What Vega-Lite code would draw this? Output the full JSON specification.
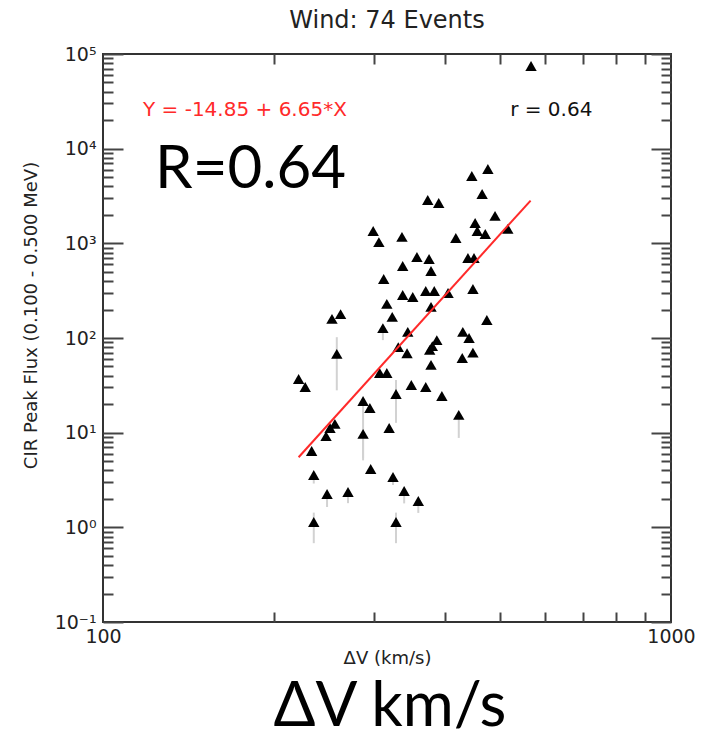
{
  "$schema": "https://vega.github.io/schema/vega-lite/v6.json",
  "width": 568,
  "height": 568,
  "autosize": {"type": "none"},
  "padding": {"left": 103, "top": 54, "right": 46, "bottom": 118},
  "background": "white",
  "title": {"text": "Wind: 74 Events", "font": "DejaVu Sans", "fontSize": 24, "fontWeight": "normal", "color": "#222", "anchor": "middle", "frame": "group", "offset": 12},
  "config": {
    "view": {"stroke": "#333", "strokeWidth": 2},
    "axis": {"domain": false, "grid": false, "labelFont": "DejaVu Sans", "titleFont": "DejaVu Sans", "labelColor": "#222", "titleColor": "#222", "tickColor": "#444", "tickWidth": 2, "titleFontWeight": "normal", "labelOverlap": false}
  },
  "datasets": {
    "events": [
      {"dv": 567, "flux": 74700},
      {"dv": 476, "flux": 6100},
      {"dv": 446, "flux": 5150},
      {"dv": 465, "flux": 3320},
      {"dv": 373, "flux": 2870},
      {"dv": 390, "flux": 2670},
      {"dv": 490, "flux": 1950},
      {"dv": 299, "flux": 1350},
      {"dv": 306, "flux": 1030},
      {"dv": 336, "flux": 1170},
      {"dv": 418, "flux": 1140},
      {"dv": 452, "flux": 1640},
      {"dv": 456, "flux": 1350},
      {"dv": 471, "flux": 1255},
      {"dv": 516, "flux": 1420},
      {"dv": 357, "flux": 717},
      {"dv": 375, "flux": 683},
      {"dv": 439, "flux": 700},
      {"dv": 450, "flux": 700},
      {"dv": 337, "flux": 576},
      {"dv": 378, "flux": 510},
      {"dv": 312, "flux": 420},
      {"dv": 337, "flux": 285},
      {"dv": 351, "flux": 271},
      {"dv": 370, "flux": 314},
      {"dv": 383, "flux": 314},
      {"dv": 405, "flux": 299},
      {"dv": 448, "flux": 329},
      {"dv": 378, "flux": 213},
      {"dv": 316, "flux": 229},
      {"dv": 323, "flux": 167},
      {"dv": 311, "flux": 127, "lo": 95, "hi": 127},
      {"dv": 253, "flux": 159},
      {"dv": 262, "flux": 179},
      {"dv": 474, "flux": 155},
      {"dv": 344, "flux": 116},
      {"dv": 430, "flux": 116},
      {"dv": 441, "flux": 100},
      {"dv": 387, "flux": 95},
      {"dv": 380, "flux": 82},
      {"dv": 376, "flux": 75},
      {"dv": 258, "flux": 68, "lo": 28, "hi": 102},
      {"dv": 331, "flux": 80},
      {"dv": 343, "flux": 69},
      {"dv": 448, "flux": 70},
      {"dv": 429, "flux": 61.5},
      {"dv": 378, "flux": 52},
      {"dv": 307, "flux": 42.7},
      {"dv": 316, "flux": 42.7},
      {"dv": 221, "flux": 36.9},
      {"dv": 227, "flux": 30.4},
      {"dv": 349, "flux": 31.9},
      {"dv": 370, "flux": 30.4},
      {"dv": 328, "flux": 25.6, "lo": 12.7, "hi": 36},
      {"dv": 395, "flux": 24.4},
      {"dv": 287, "flux": 21.6, "lo": 5.1, "hi": 21.6},
      {"dv": 295, "flux": 18.2},
      {"dv": 423, "flux": 15.4, "lo": 8.8, "hi": 15.4},
      {"dv": 256, "flux": 12.4},
      {"dv": 251, "flux": 11.2},
      {"dv": 247, "flux": 9.2},
      {"dv": 319, "flux": 11.2},
      {"dv": 287, "flux": 9.7, "lo": 5.4, "hi": 9.7},
      {"dv": 233, "flux": 6.4},
      {"dv": 296, "flux": 4.13},
      {"dv": 235, "flux": 3.57, "lo": 2.9, "hi": 3.57},
      {"dv": 324, "flux": 3.4, "lo": 2.8, "hi": 3.4},
      {"dv": 248, "flux": 2.25, "lo": 1.64, "hi": 2.25},
      {"dv": 270, "flux": 2.36, "lo": 1.8, "hi": 2.36},
      {"dv": 339, "flux": 2.42, "lo": 1.79, "hi": 2.42},
      {"dv": 359, "flux": 1.9, "lo": 1.42, "hi": 1.9},
      {"dv": 235, "flux": 1.14, "lo": 0.68, "hi": 1.43},
      {"dv": 328, "flux": 1.14, "lo": 0.68, "hi": 1.43}
    ],
    "fit": [
      {"dv": 221, "flux": 5.5},
      {"dv": 566, "flux": 2830}
    ]
  },
  "resolve": {"axis": {"x": "independent", "y": "independent"}},
  "layer": [
    {
      "data": {"name": "events"},
      "transform": [{"filter": "isValid(datum.lo)"}],
      "mark": {"type": "rule", "color": "#d2d2d2", "strokeWidth": 2},
      "encoding": {
        "x": {"field": "dv", "type": "quantitative", "scale": {"type": "log", "domain": [100, 1000], "nice": false},
          "axis": {"orient": "bottom", "labels": false, "title": null, "values": [200, 300, 400, 500, 600, 700, 800, 900], "tickSize": -10}},
        "y": {"field": "lo", "type": "quantitative", "scale": {"type": "log", "domain": [0.1, 100000], "nice": false},
          "axis": {"orient": "left", "labels": false, "title": null,
            "values": [0.1,0.2,0.3,0.4,0.5,0.6,0.7,0.8,0.9,1,2,3,4,5,6,7,8,9,10,20,30,40,50,60,70,80,90,100,200,300,400,500,600,700,800,900,1000,2000,3000,4000,5000,6000,7000,8000,9000,10000,20000,30000,40000,50000,60000,70000,80000,90000,100000],
            "tickSize": {"condition": {"test": "abs(log(datum.value)/LN10 - round(log(datum.value)/LN10)) < 0.01", "value": -20}, "value": -10}}},
        "y2": {"field": "hi"}
      }
    },
    {
      "data": {"name": "events"},
      "mark": {"type": "point", "shape": "triangle-up", "filled": true, "color": "black", "opacity": 1, "size": 130},
      "encoding": {
        "x": {"field": "dv", "type": "quantitative", "scale": {"type": "log", "domain": [100, 1000], "nice": false},
          "axis": {"orient": "bottom", "ticks": false, "values": [100, 1000], "labelExpr": "datum.value < 500 ? '100' : '1000'", "labelFontSize": 19, "labelPadding": 5, "labelFlush": false, "title": "ΔV (km/s)", "titleFontSize": 18, "titlePadding": 3}},
        "y": {"field": "flux", "type": "quantitative", "scale": {"type": "log", "domain": [0.1, 100000], "nice": false},
          "axis": {"orient": "left", "ticks": false, "values": [0.1, 1, 10, 100, 1000, 10000, 100000],
            "labelExpr": "['10⁻¹','10⁰','10¹','10²','10³','10⁴','10⁵'][round(log(datum.value)/LN10)+1]",
            "labelFontSize": 19, "labelPadding": 7, "labelBaseline": "middle",
            "title": "CIR Peak Flux (0.100 - 0.500 MeV)", "titleFontSize": 18, "titlePadding": 14, "titleY": 261}}
      }
    },
    {
      "data": {"name": "fit"},
      "mark": {"type": "line", "color": "#ff2a2a", "strokeWidth": 2},
      "encoding": {
        "x": {"field": "dv", "type": "quantitative", "scale": {"type": "log", "domain": [100, 1000], "nice": false},
          "axis": {"orient": "top", "labels": false, "title": null, "values": [200, 300, 400, 500, 600, 700, 800, 900], "tickSize": -10}},
        "y": {"field": "flux", "type": "quantitative", "scale": {"type": "log", "domain": [0.1, 100000], "nice": false},
          "axis": {"orient": "right", "labels": false, "title": null,
            "values": [0.1,0.2,0.3,0.4,0.5,0.6,0.7,0.8,0.9,1,2,3,4,5,6,7,8,9,10,20,30,40,50,60,70,80,90,100,200,300,400,500,600,700,800,900,1000,2000,3000,4000,5000,6000,7000,8000,9000,10000,20000,30000,40000,50000,60000,70000,80000,90000,100000],
            "tickSize": {"condition": {"test": "abs(log(datum.value)/LN10 - round(log(datum.value)/LN10)) < 0.01", "value": -20}, "value": -10}}}
      }
    },
    {
      "data": {"values": [{"label": "Y = -14.85 + 6.65*X"}]},
      "mark": {"type": "text", "align": "left", "baseline": "middle", "font": "DejaVu Sans", "fontSize": 20, "color": "#ff2a2a"},
      "encoding": {
        "x": {"datum": 117.6, "type": "quantitative", "scale": {"type": "log", "domain": [100, 1000], "nice": false}, "axis": null},
        "y": {"datum": 25620, "type": "quantitative", "scale": {"type": "log", "domain": [0.1, 100000], "nice": false}, "axis": null},
        "text": {"field": "label"}
      }
    },
    {
      "data": {"values": [{"label": "r = 0.64"}]},
      "mark": {"type": "text", "align": "left", "baseline": "middle", "font": "DejaVu Sans", "fontSize": 20, "color": "#111"},
      "encoding": {
        "x": {"datum": 521, "type": "quantitative", "scale": {"type": "log", "domain": [100, 1000], "nice": false}, "axis": null},
        "y": {"datum": 25620, "type": "quantitative", "scale": {"type": "log", "domain": [0.1, 100000], "nice": false}, "axis": null},
        "text": {"field": "label"}
      }
    },
    {
      "data": {"values": [{"label": "R=0.64"}]},
      "mark": {"type": "text", "align": "left", "baseline": "middle", "font": "Lato", "fontSize": 60, "color": "#000"},
      "encoding": {
        "x": {"datum": 123.5, "type": "quantitative", "scale": {"type": "log", "domain": [100, 1000], "nice": false}, "axis": null},
        "y": {"datum": 5900, "type": "quantitative", "scale": {"type": "log", "domain": [0.1, 100000], "nice": false}, "axis": null},
        "text": {"field": "label"}
      }
    },
    {
      "data": {"values": [{"label": "ΔV km/s"}]},
      "mark": {"type": "text", "align": "center", "baseline": "alphabetic", "font": "Lato", "fontSize": 62, "color": "#000"},
      "encoding": {
        "x": {"datum": 320, "type": "quantitative", "scale": {"type": "log", "domain": [100, 1000], "nice": false}, "axis": null},
        "y": {"datum": 0.008, "type": "quantitative", "scale": {"type": "log", "domain": [0.1, 100000], "nice": false}, "axis": null},
        "text": {"field": "label"}
      }
    }
  ]
}
